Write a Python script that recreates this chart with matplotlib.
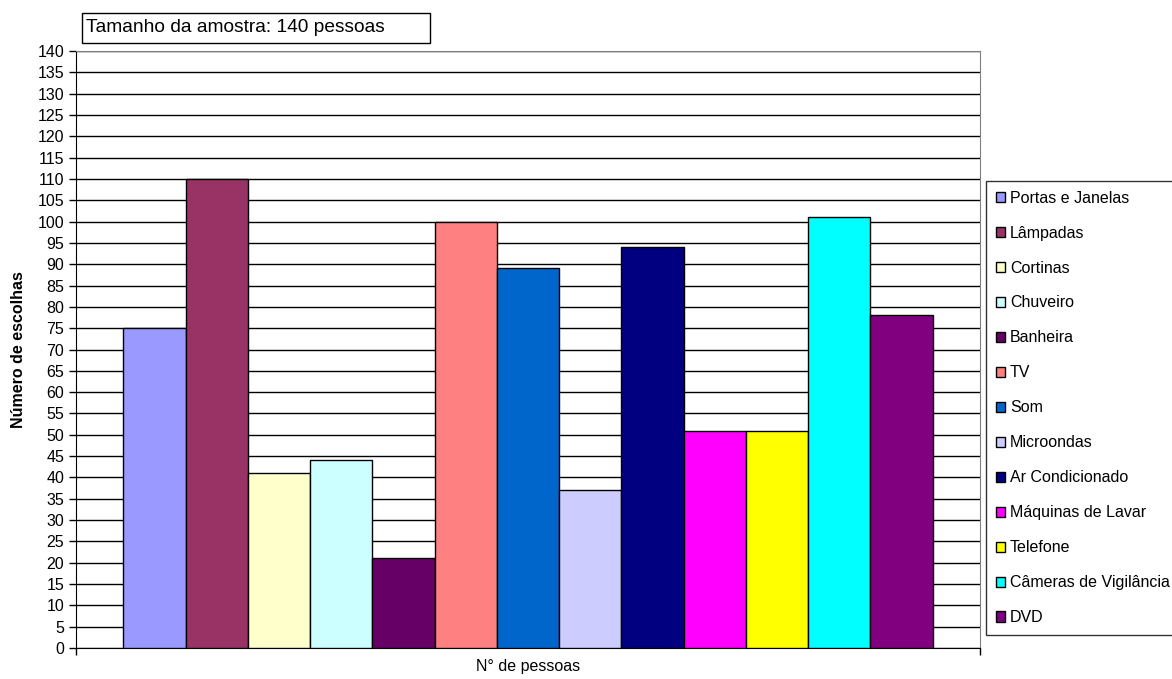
import matplotlib
matplotlib.use("Agg")
import matplotlib.pyplot as plt
from matplotlib.patches import Patch, Rectangle

plt.rcParams['font.family'] = ['Liberation Sans', 'DejaVu Sans']

categories = ["Portas e Janelas", "Lâmpadas", "Cortinas", "Chuveiro", "Banheira", "TV",
              "Som", "Microondas", "Ar Condicionado", "Máquinas de Lavar", "Telefone",
              "Câmeras de Vigilância", "DVD"]
values = [75, 110, 41, 44, 21, 100, 89, 37, 94, 51, 51, 101, 78]
colors = ["#9999FF", "#993366", "#FFFFCC", "#CCFFFF", "#660066", "#FF8080", "#0066CC",
          "#CCCCFF", "#000080", "#FF00FF", "#FFFF00", "#00FFFF", "#800080"]
yticks = list(range(0, 141, 5))

fig = plt.figure(figsize=(11.72, 6.79), dpi=100)
ax = fig.add_axes([76/1172, 31/679, (980-76)/1172, (648-51)/679])

n = len(values)
group = 0.895
w = group / n
for i, (v, c, lab) in enumerate(zip(values, colors, categories)):
    x = -group/2 + w*(i + 0.5)
    ax.bar(x, v, width=w, color=c, edgecolor="black", linewidth=1.0, label=lab, zorder=3)

ax.set_xlim(-0.5, 0.5)
ax.set_ylim(0, 140)
ax.set_yticks(yticks)
ax.set_yticklabels([str(t) for t in yticks], fontsize=11.5)
ax.set_xticks([-0.5, 0.5])
ax.set_xticklabels([])
ax.tick_params(axis='x', direction='out', length=5, width=1)
ax.tick_params(axis='y', direction='out', length=5, width=1, pad=3.5)
ax.yaxis.grid(True, color="black", linewidth=1.0, zorder=0)
ax.set_axisbelow(True)
for s in ["top", "right"]:
    ax.spines[s].set_color("#808080")
ax.spines["left"].set_color("black")
ax.spines["bottom"].set_color("black")

ax.set_ylabel("Número de escolhas", fontsize=11.5, fontweight="bold", labelpad=8)
fig.text(528/1172, (679-667)/679, "N° de pessoas", fontsize=11.5, ha="center", va="center")

# Title box
fig.text(86/1172, (679-28)/679, "Tamanho da amostra: 140 pessoas", fontsize=13.8,
         va="center", ha="left")
fig.patches.append(Rectangle((82/1172, (679-43)/679), (430-82)/1172, 30/679,
                             transform=fig.transFigure, fill=False, edgecolor="black",
                             linewidth=1.0))

handles = [Patch(facecolor=c, edgecolor="black", linewidth=1.0) for c in colors]
leg = fig.legend(handles, categories, loc="upper left",
                 bbox_to_anchor=(986/1172, (679-181)/679), fontsize=11.5,
                 frameon=True, fancybox=False, edgecolor="black",
                 handlelength=0.6, handleheight=0.6, handletextpad=0.3,
                 labelspacing=1.25, borderpad=0.6, borderaxespad=0)
leg.get_frame().set_linewidth(1.0)

fig.savefig("out.png", dpi=100)
